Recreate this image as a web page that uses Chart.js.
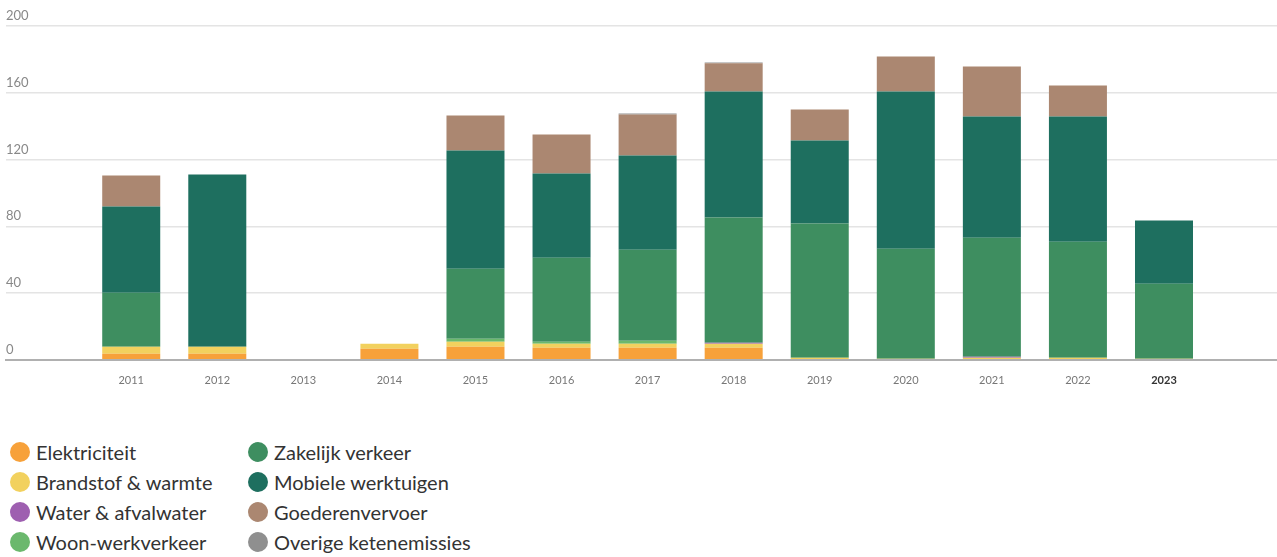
<!DOCTYPE html>
<html lang="nl">
<head>
<meta charset="utf-8">
<title>Emissies per categorie</title>
<script src="https://cdn.jsdelivr.net/npm/chart.js@4/dist/chart.umd.min.js"></script>
<style>
  html, body { margin: 0; padding: 0; background: #fff; }
  body { width: 1277px; height: 557px; position: relative; overflow: hidden; font-family: Lato, 'Noto Sans', sans-serif; }
  .chart-wrap { position: absolute; left: 0; top: 0; width: 1277px; height: 405px; }
  .legend { position: absolute; left: 10px; top: 437px; display: grid; grid-template-columns: 238px 260px; grid-auto-flow: column; grid-template-rows: repeat(4, 30px); }
  .legend-item { display: flex; align-items: center; font-size: 20px; color: #333; line-height: 30px; white-space: nowrap; }
  .legend-dot { width: 20px; height: 20px; border-radius: 50%; margin-right: 6px; flex: none; }
</style>
</head>
<body>
<div class="chart-wrap"><canvas id="chart"></canvas></div>
<div class="legend" id="legend"></div>
<script>
// Years on the x axis
const years = [2011, 2012, 2013, 2014, 2015, 2016, 2017, 2018, 2019, 2020, 2021, 2022, 2023];

// Values per category, stacked from the bottom up
const elektriciteit = [3.6, 3.6, 0, 6.6, 7.8, 7.2, 7.2, 7.2, 0, 0, 0, 0, 0];
const brandstof     = [4.2, 4.2, 0, 3.0, 3.0, 2.4, 2.4, 2.4, 1.2, 0.6, 1.2, 1.2, 0.6];
const water         = [0, 0, 0, 0, 0, 0, 0, 0.6, 0, 0, 0.6, 0, 0];
const woonWerk      = [0, 0, 0, 0, 1.8, 1.2, 1.8, 0, 0, 0, 0, 0, 0];
const zakelijk      = [32.4, 0, 0, 0, 42.0, 50.4, 54.6, 75.0, 80.4, 66.0, 71.4, 69.6, 45.0];
const mobiele       = [51.6, 103.2, 0, 0, 70.8, 50.4, 56.4, 75.6, 49.8, 94.2, 72.6, 75.0, 37.8];
const goederen      = [18.6, 0, 0, 0, 21.0, 23.4, 24.6, 16.9, 18.6, 21.0, 30.0, 18.6, 0];
const overige       = [0, 0, 0, 0, 0, 0, 0.6, 0.5, 0, 0, 0, 0, 0];

const yTicks = [0, 40, 80, 120, 160, 200];

const series = [
  { label: 'Elektriciteit', values: elektriciteit, color: '#f7a13a' },
  { label: 'Brandstof & warmte', values: brandstof, color: '#f2d15e' },
  { label: 'Water & afvalwater', values: water, color: '#9e5fb0' },
  { label: 'Woon-werkverkeer', values: woonWerk, color: '#6bb86d' },
  { label: 'Zakelijk verkeer', values: zakelijk, color: '#3e8e60' },
  { label: 'Mobiele werktuigen', values: mobiele, color: '#1e6f5f' },
  { label: 'Goederenvervoer', values: goederen, color: '#ab8771' },
  { label: 'Overige ketenemissies', values: overige, color: '#8f8f8f' },
];

const datasets = series.map(s => ({
  label: s.label,
  data: s.values.map((v, i) => ({ x: years[i], y: v })),
  backgroundColor: s.color,
  borderWidth: 0,
  categoryPercentage: 1,
  barPercentage: 0.674,
}));

const isLastYear = ctx => ctx.tick?.value === 2023;

new Chart(document.getElementById('chart'), {
  type: 'bar',
  data: { datasets },
  options: {
    responsive: true,
    maintainAspectRatio: false,
    animation: false,
    layout: { padding: { left: 6, right: 0, top: 26, bottom: 12 } },
    plugins: { legend: { display: false }, tooltip: { enabled: false } },
    scales: {
      x: {
        type: 'linear',
        stacked: true,
        min: 2010.113,
        max: 2023.745,
        afterBuildTicks: axis => { axis.ticks = years.map(v => ({ value: v })); },
        grid: { display: false },
        border: { color: '#b0b0b0', width: 2 },
        ticks: {
          padding: 6,
          maxRotation: 0,
          autoSkip: false,
          callback: v => String(v),
          color: ctx => isLastYear(ctx) ? '#333' : '#777',
          font: ctx => ({ family: 'Lato', size: 11, weight: isLastYear(ctx) ? 'bold' : 'normal' }),
        },
      },
      y: {
        stacked: true,
        min: 0,
        max: 200,
        afterBuildTicks: axis => { axis.ticks = yTicks.map(v => ({ value: v })); },
        border: { display: false },
        grid: { color: '#e4e4e4', lineWidth: 1.5, drawTicks: false },
        ticks: {
          mirror: true,
          padding: 0,
          labelOffset: -10,
          color: '#888',
          font: { family: 'Lato', size: 13 },
        },
      },
    },
  },
});

// Legend as two columns of four
document.getElementById('legend').innerHTML = series.map(s => `
  <div class="legend-item"><span class="legend-dot" style="background:${s.color}"></span>${s.label}</div>
`).join('');
</script>
</body>
</html>
